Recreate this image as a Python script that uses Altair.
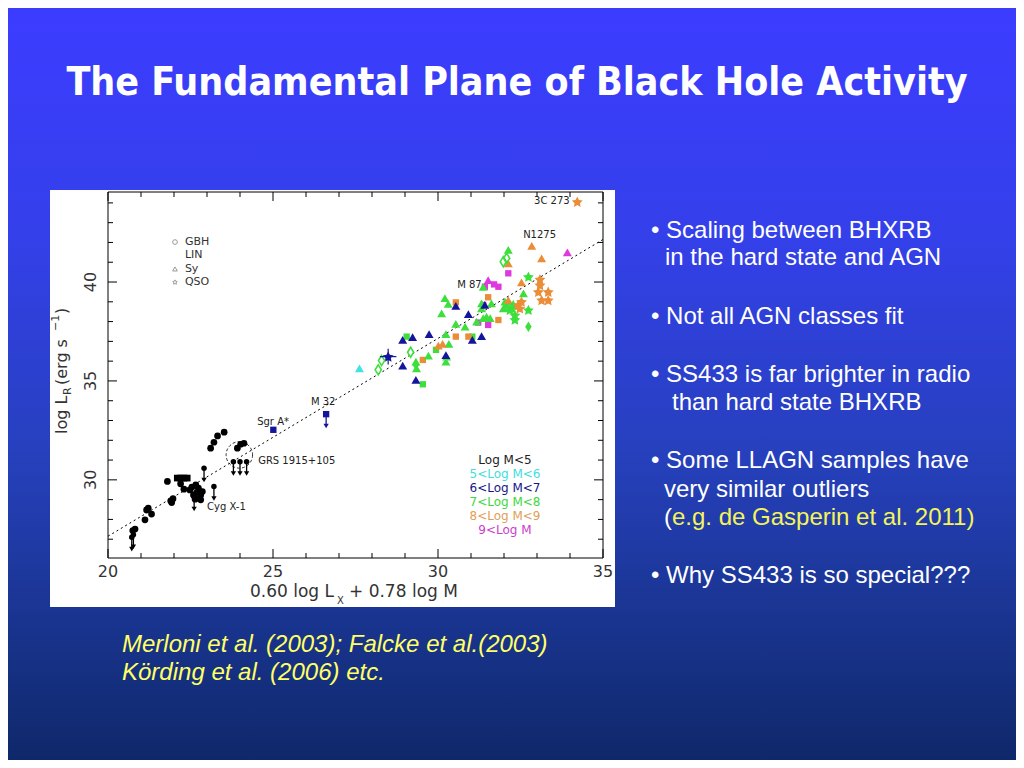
import math
import pandas as pd
import altair as alt

# ---------------- data ----------------
# Galactic black holes (black)
gbh_x = [23.52, 23.32, 23.21, 23.11, 23.92, 24.02, 24.12, 21.80, 22.20, 22.30,
         21.17, 21.22, 21.32, 21.12, 20.82, 20.75, 22.54, 22.66, 22.74, 22.69,
         22.81, 22.59, 22.76, 22.86, 22.64, 22.48, 22.81, 21.90, 21.97, 21.93]
gbh_y = [32.41, 32.22, 31.90, 31.60, 31.60, 31.80, 31.85, 29.92, 29.80, 29.53,
         28.48, 28.57, 28.27, 27.98, 27.51, 27.44, 29.63, 29.75, 29.58, 29.36,
         29.24, 29.24, 29.07, 29.41, 29.02, 29.49, 28.99, 28.94, 29.05, 28.85]
gbh_sq_x = [22.10, 22.20, 22.30, 22.40]
gbh_sq_y = [30.09, 30.09, 30.09, 30.09]
# upper limits (arrows)
ul_x = [22.91, 23.21, 22.61, 20.72, 23.80, 24.00, 24.20, 20.77]
ul_y = [30.59, 29.66, 29.13, 27.10, 30.92, 30.92, 30.92, 27.22]

# AGN groups by mass bin and marker kind
cyan_tri_x = [27.62]
cyan_tri_y = [35.64]
navy_tri_x = [28.93, 29.23, 29.73, 28.93, 29.33, 30.24, 30.54, 30.92, 31.32, 31.04, 31.42]
navy_tri_y = [37.07, 37.21, 37.37, 35.77, 35.05, 36.31, 38.79, 38.38, 37.27, 37.07, 38.84]
navy_sq_x = [25.01, 26.61]
navy_sq_y = [32.53, 33.32]
navy_star_x = [28.49]
navy_star_y = [36.23]
navy_star_xerr = [0.25]
navy_star_yerr = [0.40]
green_tri_x = [32.13, 30.21, 30.31, 30.11, 30.54, 30.82, 30.24, 30.33, 30.26, 30.24,
               29.33, 29.71, 31.37, 31.32, 31.62, 31.47, 31.17, 32.03, 32.59, 32.23,
               29.35, 31.32, 31.37, 31.58, 31.98, 32.08]
green_tri_y = [41.62, 39.18, 38.89, 38.42, 37.88, 37.74, 37.37, 36.87, 36.23, 35.97,
               35.97, 36.28, 39.76, 38.92, 38.92, 38.25, 38.00, 39.01, 39.43, 38.67,
               35.64, 38.67, 38.17, 38.17, 38.67, 38.84]
green_star_x = [32.74, 32.74, 32.28, 32.18, 32.33, 32.33]
green_star_y = [40.27, 38.59, 38.84, 38.59, 38.33, 38.10]
green_sq_x = [29.05, 29.54, 31.04, 29.94]
green_sq_y = [37.24, 34.83, 37.24, 36.57]
green_dia_x = [29.33, 32.74]
green_dia_y = [35.81, 37.74]
green_odia_x = [28.29, 28.19, 29.17, 31.98, 32.08]
green_odia_y = [36.03, 35.56, 36.45, 41.03, 41.20]
orange_sq_x = [30.54, 29.54, 30.54, 30.92, 31.52, 31.83]
orange_sq_y = [38.97, 36.06, 37.24, 37.24, 39.23, 38.08]
orange_tri_x = [32.84, 33.14, 32.53, 30.01, 30.14, 32.13, 32.13]
orange_tri_y = [41.83, 41.20, 39.98, 36.78, 36.87, 39.09, 40.94]
orange_star_x = [32.43, 33.09, 33.09, 33.04, 33.34, 33.14, 33.34, 32.53, 32.48, 34.22]
orange_star_y = [38.84, 40.14, 39.85, 39.51, 39.51, 39.09, 39.09, 39.01, 38.67, 44.06]
magenta_tri_x = [33.92, 31.52]
magenta_tri_y = [41.50, 40.10]
magenta_sq_x = [32.13, 31.42, 31.83, 31.70, 31.22, 31.52, 31.37]
magenta_sq_y = [40.44, 39.76, 39.76, 39.88, 37.95, 37.83, 38.84]

# M 32 upper limit
m32_ul_x = [26.61]
m32_ul_y = [33.32]

# fundamental-plane line
fit_x = [20.0, 35.0]
fit_y = [27.15, 42.15]

# circle around GRS 1915+105
grs_x = [23.98]
grs_y = [31.26]

# labels inside the plot
lab_text = ["3C 273", "N1275", "M 87", "M 32", "Sgr A*", "GRS 1915+105", "Cyg X-1"]
lab_x = [32.91, 32.58, 30.58, 26.15, 24.52, 24.55, 23.00]
lab_y = [44.09, 42.37, 39.85, 33.94, 32.93, 30.96, 28.64]

# symbol legend (upper left)
leg1_text = ["GBH", "LIN", "Sy", "QSO"]
leg1_y = [42.02, 41.36, 40.66, 40.00]
leg1_kind = ["circle", "none", "tri", "star"]

# mass legend (lower right)
bins = ["5-6", "6-7", "7-8", "8-9", "9+"]
bin_colors = ["#3fe3e3", "#14149c", "#3ddf3d", "#ea8d36", "#df38df"]
leg2_text = ["Log M<5", "5<Log M<6", "6<Log M<7", "7<Log M<8", "8<Log M<9", "9<Log M"]
leg2_col = ["#222222", "#40dede", "#16168a", "#40d840", "#e0a058", "#cc40cc"]
leg2_y = [31.01, 30.30, 29.60, 28.89, 28.18, 27.47]

x_tick_major = [20, 25, 30, 35]
x_tick_minor = [21, 22, 23, 24, 26, 27, 28, 29, 31, 32, 33, 34]
y_tick_major = [30, 35, 40]
y_tick_minor = [27, 28, 29, 31, 32, 33, 34, 36, 37, 38, 39, 41, 42, 43, 44]

title_text = "The Fundamental Plane of Black Hole Activity"
bullets = [
    ("\u2022 Scaling between BHXRB", 651, 238),
    ("in the hard state and AGN", 665, 265),
    ("\u2022 Not all AGN classes fit", 651, 324),
    ("\u2022 SS433 is far brighter in radio", 651, 382),
    ("than hard state BHXRB", 672, 410),
    ("\u2022 Some LLAGN samples have", 651, 468),
    ("very similar outliers", 664, 497),
    ("(", 664, 525),
    ("\u2022 Why SS433 is so special???", 651, 583),
]
bullet_yellow = ("e.g. de Gasperin et al. 2011)", 672, 525)
citation = [
    ("Merloni et al. (2003); Falcke et al.(2003)", 122, 652),
    ("K\u00f6rding et al. (2006) etc.", 122, 680),
]

# ---------------- layout ----------------
W, H = 495, 366
PAD_L, PAD_T = 100, 184
TOT_W, TOT_H = 1008, 752


def px(X):
    return X - 108


def py(Y):
    return Y - 192


XS = alt.Scale(domain=[20, 35], nice=False, zero=False)
YS = alt.Scale(domain=[26.05, 44.55], nice=False, zero=False)

pts = []
for k in range(10):
    a = math.radians(-90 + 36 * k)
    r = 1.0 if k % 2 == 0 else 0.5
    pts.append(f"{r * math.cos(a):.3f},{r * math.sin(a) + 0.1:.3f}")
STAR = "M" + "L".join(pts) + "Z"
DIAMOND = "M0,-1L0.62,0L0,1L-0.62,0Z"

one = pd.DataFrame({"a": [0]})
AXF = "DejaVu Sans"


def X(f="x"):
    return alt.X(f"{f}:Q", scale=XS, axis=None)


def Y(f="y"):
    return alt.Y(f"{f}:Q", scale=YS, axis=None)


layers = []

# background gradient
layers.append(alt.Chart(one).mark_rect(
    color=alt.LinearGradient(
        gradient="linear", x1=0, x2=0, y1=0, y2=1,
        stops=[alt.GradientStop(color="#3c3cff", offset=0),
               alt.GradientStop(color="#3440ea", offset=0.3),
               alt.GradientStop(color="#2640bc", offset=0.6),
               alt.GradientStop(color="#1a3592", offset=0.8),
               alt.GradientStop(color="#0f286a", offset=1)])
).encode(x=alt.value(-PAD_L), x2=alt.value(TOT_W - PAD_L),
         y=alt.value(-PAD_T), y2=alt.value(TOT_H - PAD_T)))

# white figure panel
layers.append(alt.Chart(one).mark_rect(color="white").encode(
    x=alt.value(px(50)), x2=alt.value(px(615)), y=alt.value(py(190)), y2=alt.value(py(607))))

# frame
layers.append(alt.Chart(one).mark_rect(fillOpacity=0, stroke="black", strokeWidth=1).encode(
    x=alt.value(0), x2=alt.value(W), y=alt.value(0), y2=alt.value(H)))

# ticks (inward)
for vals, ln in [(x_tick_major, 9), (x_tick_minor, 5)]:
    d = pd.DataFrame({"x": vals})
    layers.append(alt.Chart(d).mark_rule(color="black").encode(x=X(), y=alt.value(H), y2=alt.value(H - ln)))
    layers.append(alt.Chart(d).mark_rule(color="black").encode(x=X(), y=alt.value(0), y2=alt.value(ln)))
for vals, ln in [(y_tick_major, 9), (y_tick_minor, 5)]:
    d = pd.DataFrame({"y": vals})
    layers.append(alt.Chart(d).mark_rule(color="black").encode(y=Y(), x=alt.value(0), x2=alt.value(ln)))
    layers.append(alt.Chart(d).mark_rule(color="black").encode(y=Y(), x=alt.value(W), x2=alt.value(W - ln)))

# tick labels
layers.append(alt.Chart(pd.DataFrame({"x": x_tick_major})).mark_text(
    font=AXF, fontSize=16, color="#333333", baseline="middle").encode(
    x=X(), y=alt.value(py(572)), text=alt.Text("x:Q", format="d")))
layers.append(alt.Chart(pd.DataFrame({"y": y_tick_major})).mark_text(
    font=AXF, fontSize=16, color="#333333", baseline="middle", angle=270).encode(
    y=Y(), x=alt.value(px(91)), text=alt.Text("y:Q", format="d")))


def txt(s, X0, Y0, size=16, color="#333333", align="left", baseline="middle", angle=0,
        font=AXF, weight="normal", style="normal"):
    return alt.Chart(one).mark_text(
        font=font, fontSize=size, color=color, align=align, baseline=baseline,
        angle=angle, fontWeight=weight, fontStyle=style
    ).encode(x=alt.value(px(X0)), y=alt.value(py(Y0)), text=alt.value(s))


# axis titles
layers.append(txt("0.60 log L", 334, 592, size=17, align="right"))
layers.append(txt("X", 337, 601, size=10))
layers.append(txt("+ 0.78 log M", 349, 592, size=17))
layers.append(txt("log L", 62, 434, size=16, angle=270))
layers.append(txt("R", 68, 395, size=11, angle=270))
layers.append(txt("(erg s", 62, 385, size=16, angle=270))
layers.append(txt("\u22121", 56, 331, size=11, angle=270))
layers.append(txt(")", 62, 314, size=16, angle=270))

# plot labels
layers.append(alt.Chart(pd.DataFrame({"x": lab_x, "y": lab_y, "t": lab_text})).mark_text(
    font=AXF, fontSize=10, color="#222222", align="left", baseline="middle").encode(
    x=X(), y=Y(), text="t:N"))

# fit line
layers.append(alt.Chart(pd.DataFrame({"x": fit_x, "y": fit_y})).mark_line(
    color="black", strokeDash=[2, 3], strokeWidth=1).encode(x=X(), y=Y()))

# GRS circle
layers.append(alt.Chart(pd.DataFrame({"x": grs_x, "y": grs_y})).mark_point(
    shape="circle", filled=False, size=700, color="black", strokeWidth=0.8,
    strokeDash=[3, 2], opacity=1).encode(x=X(), y=Y()))

# GBH points
layers.append(alt.Chart(pd.DataFrame({"x": gbh_x, "y": gbh_y})).mark_point(
    shape="circle", filled=True, size=45, color="black", opacity=1).encode(x=X(), y=Y()))
layers.append(alt.Chart(pd.DataFrame({"x": gbh_sq_x, "y": gbh_sq_y})).mark_point(
    shape="square", filled=True, size=45, color="black", opacity=1).encode(x=X(), y=Y()))

# upper limits (GBH and M 32)
for ux, uy, col in [(ul_x, ul_y, "black"), (m32_ul_x, m32_ul_y, bin_colors[1])]:
    d = pd.DataFrame({"x": ux, "y": uy})
    base = alt.Chart(d).transform_calculate(ye="datum.y - 0.6")
    if col == "black":
        layers.append(base.mark_point(shape="circle", filled=True, size=30, color=col, opacity=1)
                      .encode(x=X(), y=Y()))
    layers.append(base.mark_rule(color=col, strokeWidth=1.3).encode(x=X(), y=Y(), y2="ye:Q"))
    layers.append(base.mark_point(shape="triangle-down", filled=True, size=28, color=col, opacity=1)
                  .encode(x=X(), y=alt.Y("ye:Q", scale=YS, axis=None)))

# AGN points
groups = [
    (cyan_tri_x, cyan_tri_y, "5-6", "tri"),
    (navy_sq_x, navy_sq_y, "6-7", "sq"),
    (navy_star_x, navy_star_y, "6-7", "star"),
    (green_tri_x, green_tri_y, "7-8", "tri"),
    (green_star_x, green_star_y, "7-8", "star"),
    (green_sq_x, green_sq_y, "7-8", "sq"),
    (green_dia_x, green_dia_y, "7-8", "dia"),
    (orange_sq_x, orange_sq_y, "8-9", "sq"),
    (orange_tri_x, orange_tri_y, "8-9", "tri"),
    (orange_star_x, orange_star_y, "8-9", "star"),
    (navy_tri_x, navy_tri_y, "6-7", "tri"),
    (magenta_tri_x, magenta_tri_y, "9+", "tri"),
    (magenta_sq_x, magenta_sq_y, "9+", "sq"),
]
rows = []
for gx, gy, b, k in groups:
    for a, c in zip(gx, gy):
        rows.append({"x": a, "y": c, "bin": b, "kind": k})
agn = pd.DataFrame(rows)

kind_shape = {"tri": "triangle-up", "sq": "square", "star": STAR, "dia": DIAMOND}
kind_size = {"tri": 80, "sq": 40, "star": 130, "dia": 110}
for k in ["dia", "sq", "tri", "star"]:
    layers.append(alt.Chart(agn[agn["kind"] == k]).mark_point(
        filled=True, opacity=1, shape=kind_shape[k], size=kind_size[k]).encode(
        x=X(), y=Y(),
        color=alt.Color("bin:N", scale=alt.Scale(domain=bins, range=bin_colors), legend=None)))

layers.append(alt.Chart(pd.DataFrame({"x": green_odia_x, "y": green_odia_y})).mark_point(
    shape=DIAMOND, filled=False, size=100, color=bin_colors[2], strokeWidth=1.6, opacity=1).encode(
    x=X(), y=Y()))

# navy star error bars
es = pd.DataFrame({"x": navy_star_x, "y": navy_star_y, "xe": navy_star_xerr, "ye": navy_star_yerr})
eb = alt.Chart(es).transform_calculate(
    x1="datum.x - datum.xe", x2="datum.x + datum.xe",
    y1="datum.y - datum.ye", y2="datum.y + datum.ye")
layers.append(eb.mark_rule(color=bin_colors[1], strokeWidth=1.2).encode(
    x=alt.X("x1:Q", scale=XS, axis=None), x2="x2:Q", y=Y()))
layers.append(eb.mark_rule(color=bin_colors[1], strokeWidth=1.2).encode(
    y=alt.Y("y1:Q", scale=YS, axis=None), y2="y2:Q", x=X()))

# symbol legend
l1 = pd.DataFrame({"y": leg1_y, "t": leg1_text, "kind": leg1_kind, "x": [22.03] * 4, "xt": [22.33] * 4})
for k, shp in [("circle", "circle"), ("tri", "triangle-up"), ("star", STAR)]:
    layers.append(alt.Chart(l1[l1["kind"] == k]).mark_point(
        filled=False, size=22, color="#9a9a9a", strokeWidth=1, opacity=1, shape=shp).encode(x=X(), y=Y()))
layers.append(alt.Chart(l1).mark_text(font=AXF, fontSize=11, color="#333333", align="left",
                                      baseline="middle").encode(x=X("xt"), y=Y(), text="t:N"))

# mass legend
l2 = pd.DataFrame({"y": leg2_y, "t": leg2_text, "c": leg2_col, "x": [32.03] * 6})
layers.append(alt.Chart(l2).mark_text(font=AXF, fontSize=12, align="center", baseline="middle").encode(
    x=X(), y=Y(), text="t:N", color=alt.Color("c:N", scale=None)))

# slide title, bullets, citation
layers.append(txt(title_text, 517, 95, size=39, color="white", align="center", baseline="alphabetic",
                  font="DejaVu Sans Condensed", weight="bold"))
for s, bx, by in bullets:
    layers.append(txt(s, bx, by, size=24, color="white", baseline="alphabetic", font="Liberation Sans"))
s, bx, by = bullet_yellow
layers.append(txt(s, bx, by, size=24, color="#f4f45a", baseline="alphabetic", font="Liberation Sans"))
for s, bx, by in citation:
    layers.append(txt(s, bx, by, size=24, color="#ffff66", baseline="alphabetic",
                      font="Liberation Sans", style="italic"))

chart = alt.layer(*layers).properties(
    width=W, height=H,
    padding={"left": PAD_L, "top": PAD_T, "right": TOT_W - PAD_L - W, "bottom": TOT_H - PAD_T - H},
    autosize=alt.AutoSizeParams(type="none"),
).configure_view(strokeWidth=0)

chart.save("out.html", embed_options={"renderer": "svg", "actions": False})
